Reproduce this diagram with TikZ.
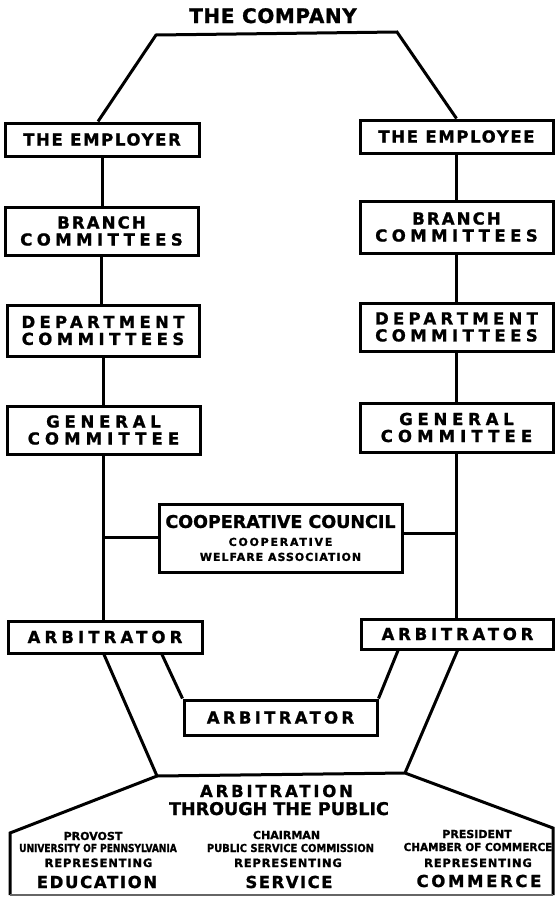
\documentclass[tikz,border=0pt]{standalone}
\usepackage{fontspec}
\setmainfont{DejaVu Sans}[BoldFeatures={FakeBold=1.2}]
\newcommand\LSp[2]{{\addfontfeatures{LetterSpace=#1}#2}}
\newcommand\SQz[2]{{\addfontfeatures{FakeStretch=#1}#2}}
\begin{document}
\begin{tikzpicture}[x=1pt,y=-1pt,line width=3pt,
  box/.style={draw,rectangle,inner sep=0pt,align=center,font=\bfseries\fontsize{16.5}{17}\selectfont},
  lbl/.style={inner sep=0pt,anchor=base,font=\bfseries\fontsize{11}{11}\selectfont},
  big/.style={font=\bfseries\fontsize{16.5}{16.5}\selectfont},
  rep/.style={font=\bfseries\fontsize{11.5}{11.5}\selectfont}]
\useasboundingbox (0,0) rectangle (556,897);

% title
\node[lbl,font=\bfseries\fontsize{20}{20}\selectfont] (company) at (273,23) {\LSp{3}{THE COMPANY}};

% left column
\node[box,minimum width=194pt,minimum height=33pt] (emp) at (102,139.5) {\LSp{10}{THE EMPLOYER}};
\node[box,minimum width=193pt,minimum height=48pt] (brL) at (101.5,231) {\LSp{13}{BRANCH}\\\LSp{27}{COMMITTEES}};
\node[box,minimum width=192pt,minimum height=51pt] (dpL) at (103,330.5) {\LSp{26}{DEPARTMENT}\\\LSp{27}{COMMITTEES}};
\node[box,minimum width=193pt,minimum height=48pt] (gnL) at (103.5,430) {\LSp{29}{GENERAL}\\\LSp{31}{COMMITTEE}};
\node[box,minimum width=194pt,minimum height=32pt] (arL) at (105,637) {\LSp{25}{ARBITRATOR}};

% right column
\node[box,minimum width=193pt,minimum height=33pt] (empe) at (456.5,136.5) {\LSp{10}{THE EMPLOYEE}};
\node[box,minimum width=193pt,minimum height=52pt] (brR) at (456.5,227) {\LSp{13}{BRANCH}\\\LSp{27}{COMMITTEES}};
\node[box,minimum width=193pt,minimum height=48pt] (dpR) at (456.5,327) {\LSp{26}{DEPARTMENT}\\\LSp{27}{COMMITTEES}};
\node[box,minimum width=193pt,minimum height=49pt] (gnR) at (456.5,427.5) {\LSp{29}{GENERAL}\\\LSp{31}{COMMITTEE}};
\node[box,minimum width=192pt,minimum height=30pt] (arR) at (457.5,634) {\LSp{23}{ARBITRATOR}};

% centre
\node[box,minimum width=243pt,minimum height=68pt] (coop) at (280.5,538)
  {{\fontsize{17.5}{17.5}\selectfont COOPERATIVE COUNCIL}\\[1pt]
   {\fontsize{11}{11}\selectfont\LSp{16}{COOPERATIVE}}\\[-2pt]
   {\fontsize{11}{11}\selectfont\LSp{9}{WELFARE ASSOCIATION}}};
\node[box,minimum width=193pt,minimum height=35pt] (arC) at (280.5,717.5) {\LSp{20}{ARBITRATOR}};

% top connector
\coordinate (tl) at (156,35);
\coordinate (tr) at (397,32);
\draw ([xshift=-4pt]emp.north) -- (tl) -- (tr) -- (empe.north);

% vertical chains
\draw (emp.south) -- (emp.south |- brL.north);
\draw (brL.south) -- (brL.south |- dpL.north);
\draw (dpL.south) -- (dpL.south |- gnL.north);
\draw (gnL.south) -- (gnL.south |- arL.north);
\draw (empe.south) -- (empe.south |- brR.north);
\draw (brR.south) -- (brR.south |- dpR.north);
\draw (dpR.south) -- (dpR.south |- gnR.north);
\draw (gnR.south) -- (gnR.south |- arR.north);

% links to the cooperative council
\coordinate (jLy) at (0,537);
\coordinate (jRy) at (0,533);
\coordinate (jL) at (gnL.south |- jLy);
\coordinate (jR) at (gnR.south |- jRy);
\draw (jL) -- (coop.west |- jL);
\draw (jR) -- (coop.east |- jR);

% lower connectors
\coordinate (pL) at (157,776);
\coordinate (pR) at (405,773);
\draw ([xshift=-1pt]arL.south) -- (pL);
\draw ([xshift=57pt]arL.south) -- (arC.north west);
\draw ([xshift=-59.5pt]arR.south) -- (arC.north east);
\draw (arR.south) -- (pR);

% public arbitration enclosure
\coordinate (bL1) at (10,895);
\coordinate (bL2) at (10,833);
\coordinate (bR2) at (553,828);
\coordinate (bR1) at (553,895);
\draw (bL1) -- (bL2) -- (pL) -- (pR) -- (bR2) -- (bR1);
\draw[line width=1.2pt,black!60] (bL1) -- (bR1);

\node[lbl,big] (arbT1) at (276.5,797) {\LSp{17}{ARBITRATION}};
\node[lbl,font=\bfseries\fontsize{17.5}{17.5}\selectfont] (arbT2) at (279,815) {THROUGH THE PUBLIC};

\node[lbl] (prov) at (93,840) {PROVOST};
\node[lbl] (univ) at (98,852) {\SQz{0.82}{UNIVERSITY OF PENNSYLVANIA}};
\node[lbl,rep] (repL) at (98.5,867) {\LSp{7}{REPRESENTING}};
\node[lbl,big] (edu) at (97,888) {\LSp{10}{EDUCATION}};

\node[lbl] (chair) at (286.5,839) {CHAIRMAN};
\node[lbl] (psc) at (290.5,852) {\SQz{0.9}{PUBLIC SERVICE COMMISSION}};
\node[lbl,rep] (repM) at (288,867) {\LSp{7}{REPRESENTING}};
\node[lbl,big] (serv) at (289,888) {\LSp{9}{SERVICE}};

\node[lbl] (pres) at (477,838) {PRESIDENT};
\node[lbl] (cham) at (478,851) {\SQz{0.95}{CHAMBER OF COMMERCE}};
\node[lbl,rep] (repR) at (478,867) {\LSp{7}{REPRESENTING}};
\node[lbl,big] (comm) at (479,887) {\LSp{16}{COMMERCE}};
\end{tikzpicture}
\end{document}
